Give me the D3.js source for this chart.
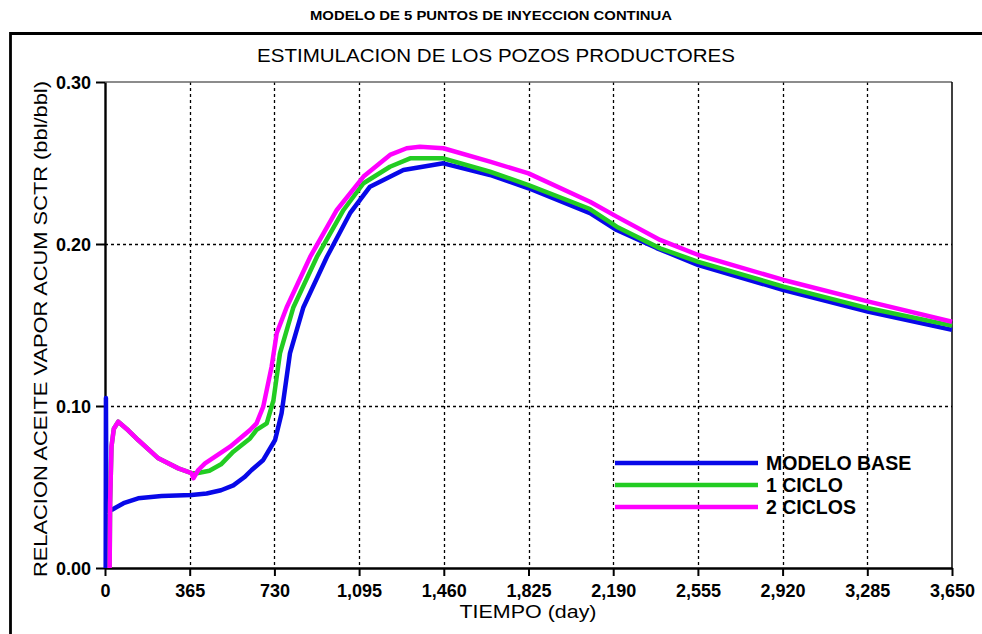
<!DOCTYPE html>
<html><head><meta charset="utf-8">
<script src="https://cdn.jsdelivr.net/npm/d3@7"></script>
<style>body{margin:0;background:#fff}svg{display:block}text{font-family:Arial,"Liberation Sans",sans-serif}</style>
</head><body><svg id="c" width="982" height="634"></svg>
<script>
const title = "MODELO DE 5 PUNTOS DE INYECCION CONTINUA";
const subtitle = "ESTIMULACION DE LOS POZOS PRODUCTORES";
const xLabel = "TIEMPO (day)";
const yLabel = "RELACION ACEITE VAPOR ACUM SCTR (bbl/bbl)";
const xTicks = [0,365,730,1095,1460,1825,2190,2555,2920,3285,3650];
const yTicks = [0,0.1,0.2,0.3];
const seriesNames = ["MODELO BASE","1 CICLO","2 CICLOS"];
const seriesColors = ["#0808e8","#22cc22","#ff00ff"];

const baseDays = [3,4,6,30,80,143,244,373,438,500,553,600,632,682,733,761,797,855,956,1056,1142,1228,1286,1458,1659,1825,2090,2205,2377,2557,2924,3291,3650];
const baseVals = [0,0.105,0.035,0.036,0.040,0.043,0.0444,0.045,0.046,0.048,0.051,0.056,0.0605,0.0667,0.079,0.0955,0.1325,0.161,0.192,0.219,0.2354,0.2415,0.2457,0.2498,0.2426,0.2344,0.219,0.2086,0.1975,0.187,0.1716,0.1582,0.147];

const c1Days = [20,22,28,38,57,100,143,230,316,373,401,450,500,553,625,653,697,726,754,812,913,1028,1114,1228,1315,1458,1659,1825,2090,2205,2392,2557,2924,3291,3650];
const c1Vals = [0,0.04,0.075,0.086,0.0903,0.085,0.079,0.0677,0.0615,0.0585,0.0586,0.060,0.064,0.0718,0.0800,0.0852,0.0893,0.1037,0.1325,0.161,0.192,0.221,0.2375,0.2477,0.2529,0.2529,0.2446,0.2364,0.2216,0.2107,0.1973,0.189,0.1737,0.1603,0.1496];

const c2Days = [20,22,28,38,57,100,143,230,316,373,381,402,431,539,625,653,682,718,740,783,884,999,1114,1228,1300,1357,1458,1659,1825,2090,2205,2392,2557,2924,3291,3650];
const c2Vals = [0,0.04,0.075,0.086,0.0903,0.085,0.079,0.0677,0.0615,0.0585,0.0554,0.0605,0.0646,0.0749,0.0852,0.0893,0.0996,0.1243,0.1449,0.161,0.192,0.221,0.2416,0.255,0.2591,0.260,0.2591,0.2508,0.2436,0.2261,0.2169,0.2025,0.1932,0.1778,0.1644,0.152];

const svg = d3.select("#c");
const L = 105, R = 952, T = 82, B = 568;
const x = d3.scaleLinear().domain([0,3650]).range([L,R]);
const y = d3.scaleLinear().domain([0,0.3]).range([B,T]);

// outer frame
svg.append("path").attr("d",`M10.5,640 L10.5,33.5 L990,33.5`).attr("fill","none").attr("stroke","#000").attr("stroke-width",2.8);

svg.append("text").attr("x",491).attr("y",20).attr("text-anchor","middle").attr("font-size",13).attr("font-weight","bold")
  .attr("textLength",362).attr("lengthAdjust","spacingAndGlyphs").text(title);
svg.append("text").attr("x",496).attr("y",62).attr("text-anchor","middle").attr("font-size",18)
  .attr("textLength",478).attr("lengthAdjust","spacingAndGlyphs").text(subtitle);

// grid
const g = svg.append("g");
g.selectAll(".vg").data(xTicks.slice(1,-1)).join("line")
  .attr("x1",d=>Math.round(x(d))+0.5).attr("x2",d=>Math.round(x(d))+0.5).attr("y1",T).attr("y2",B)
  .attr("stroke","#000").attr("stroke-width",1.3).attr("stroke-dasharray","3,3");
g.selectAll(".hg").data(yTicks.slice(1,-1)).join("line")
  .attr("y1",d=>Math.round(y(d))+0.5).attr("y2",d=>Math.round(y(d))+0.5).attr("x1",L).attr("x2",R)
  .attr("stroke","#000").attr("stroke-width",1.3).attr("stroke-dasharray","3,3");

// plot frame top/right
svg.append("line").attr("x1",L).attr("x2",R).attr("y1",T).attr("y2",T).attr("stroke","#666").attr("stroke-width",1.5);
svg.append("line").attr("x1",R).attr("x2",R).attr("y1",T).attr("y2",B).attr("stroke","#000").attr("stroke-width",1.5);

// axes
const xAxis = d3.axisBottom(x).tickValues(xTicks).tickFormat(d3.format(",")).tickSize(8).tickSizeOuter(0);
const yAxis = d3.axisLeft(y).tickValues(yTicks).tickFormat(d3.format(".2f")).tickSize(9).tickSizeOuter(0);
const gx = svg.append("g").attr("transform",`translate(0,${B})`).call(xAxis);
const gy = svg.append("g").attr("transform",`translate(${L},0)`).call(yAxis);
[gx,gy].forEach(a=>{
  a.select(".domain").attr("stroke","#000").attr("stroke-width",2.4);
  a.selectAll(".tick line").attr("stroke","#000").attr("stroke-width",2);
  a.selectAll(".tick text").attr("fill","#000").attr("font-size",18).attr("font-weight","bold").attr("font-family","Arial,'Liberation Sans',sans-serif");
});
gx.selectAll(".tick text").attr("dy",null).attr("y",29);
gy.selectAll(".tick text").attr("x",-14).attr("dy","0.36em");

svg.append("text").attr("x",528).attr("y",618).attr("text-anchor","middle").attr("font-size",17.5)
  .attr("textLength",137).attr("lengthAdjust","spacingAndGlyphs").text(xLabel);
svg.append("text").attr("transform",`translate(47,329) rotate(-90)`).attr("text-anchor","middle").attr("font-size",18.5)
  .attr("textLength",496).attr("lengthAdjust","spacingAndGlyphs").text(yLabel);

// series
const series = [
  {d:baseDays,v:baseVals},
  {d:c1Days,v:c1Vals},
  {d:c2Days,v:c2Vals}
];
const line = d3.line().x(p=>x(p[0])).y(p=>y(p[1]));
series.forEach((s,i)=>{
  svg.append("path").datum(s.d.map((d,j)=>[d,s.v[j]]))
    .attr("d",line).attr("fill","none").attr("stroke",seriesColors[i]).attr("stroke-width",4.5).attr("stroke-linejoin","round");
});

// legend
const lg = svg.append("g");
seriesNames.forEach((n,i)=>{
  const yy = 463 + i*22;
  lg.append("line").attr("x1",615).attr("x2",758).attr("y1",yy).attr("y2",yy).attr("stroke",seriesColors[i]).attr("stroke-width",4.5);
  lg.append("text").attr("x",766).attr("y",yy).attr("dy","0.36em").attr("font-size",19.5).attr("font-weight","bold").text(n);
});
</script></body></html>
